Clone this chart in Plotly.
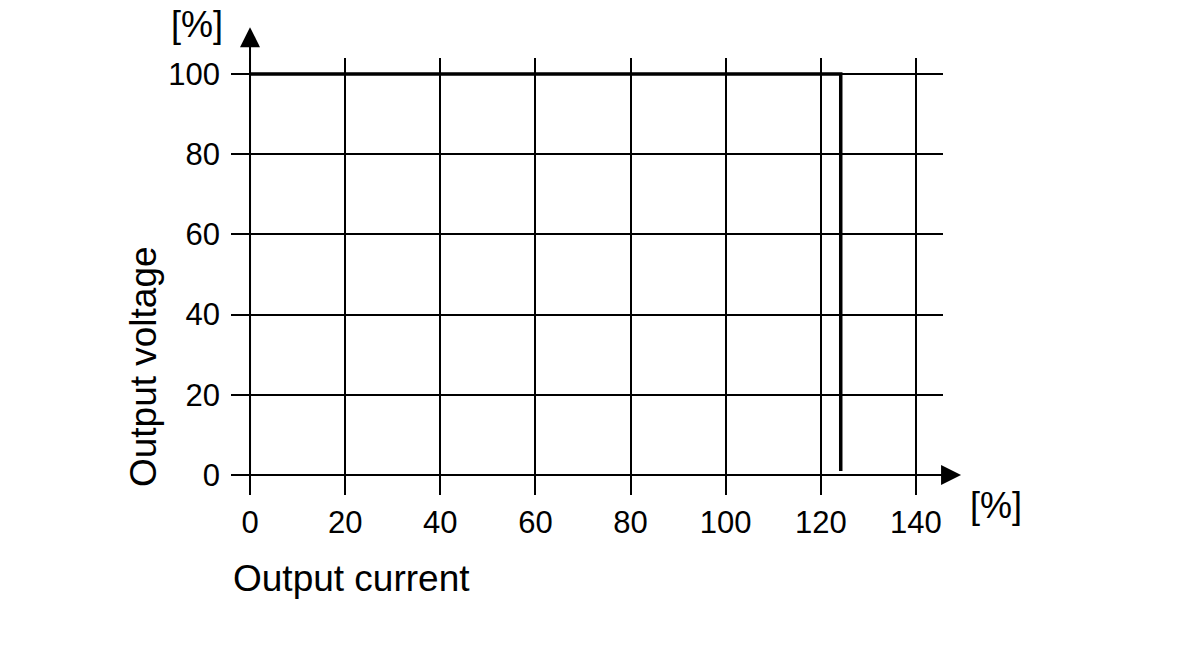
import plotly.graph_objects as go

# characteristic curve (output current % vs output voltage %)
current = [0, 124.2, 124.2]
voltage = [100, 100, 1]

x_ticks = [0, 20, 40, 60, 80, 100, 120, 140]
y_ticks = [0, 20, 40, 60, 80, 100]

FONT = "Liberation Sans, Arial, sans-serif"

fig = go.Figure()
fig.add_trace(go.Scatter(x=current, y=voltage, mode="lines",
                         line=dict(color="black", width=3.5), showlegend=False,
                         hoverinfo="skip"))

# axis arrows
fig.add_annotation(x=149.5, y=0, ax=0, ay=0, xref="x", yref="y", axref="x", ayref="y",
                   text="", showarrow=True, arrowhead=2, arrowsize=2, arrowwidth=2,
                   arrowcolor="black")
fig.add_annotation(x=0, y=111.7, ax=0, ay=0, xref="x", yref="y", axref="x", ayref="y",
                   text="", showarrow=True, arrowhead=2, arrowsize=2, arrowwidth=2,
                   arrowcolor="black")

# unit labels and axis titles
fig.add_annotation(x=-0.048, y=1.077, xref="paper", yref="paper", text="[%]", showarrow=False,
                   xanchor="center", yanchor="middle", borderpad=0,
                   font=dict(family=FONT, size=36, color="black"))
fig.add_annotation(x=1.074, y=-0.023, xref="paper", yref="paper", text="[%]", showarrow=False,
                   xanchor="center", yanchor="middle",
                   font=dict(family=FONT, size=36, color="black"))
fig.add_annotation(x=0.0, y=-0.19, xref="paper", yref="paper", text="Output current",
                   showarrow=False, xanchor="left", yanchor="middle",
                   font=dict(family=FONT, size=37, color="black"))
fig.add_annotation(x=-0.1236, y=0.295, xref="paper", yref="paper", text="Output voltage",
                   showarrow=False, textangle=-90, xanchor="center", yanchor="middle",
                   font=dict(family=FONT, size=37, color="black"))

fig.update_xaxes(range=[-4, 145.7], tickvals=x_ticks, showgrid=True, gridcolor="black",
                 gridwidth=1.5, zeroline=False, showline=False, ticks="",
                 ticklabelstandoff=6,
                 tickfont=dict(family=FONT, size=31, color="black"), fixedrange=True)
fig.update_yaxes(range=[-5, 104], tickvals=y_ticks, showgrid=True, gridcolor="black",
                 gridwidth=1.5, zeroline=False, showline=False, ticks="",
                 ticklabelstandoff=10,
                 tickfont=dict(family=FONT, size=31, color="black"), fixedrange=True)

fig.update_layout(width=1200, height=651, margin=dict(l=223, r=265, t=50, b=164),
                  plot_bgcolor="white", paper_bgcolor="white")

fig.write_html("out.html")
